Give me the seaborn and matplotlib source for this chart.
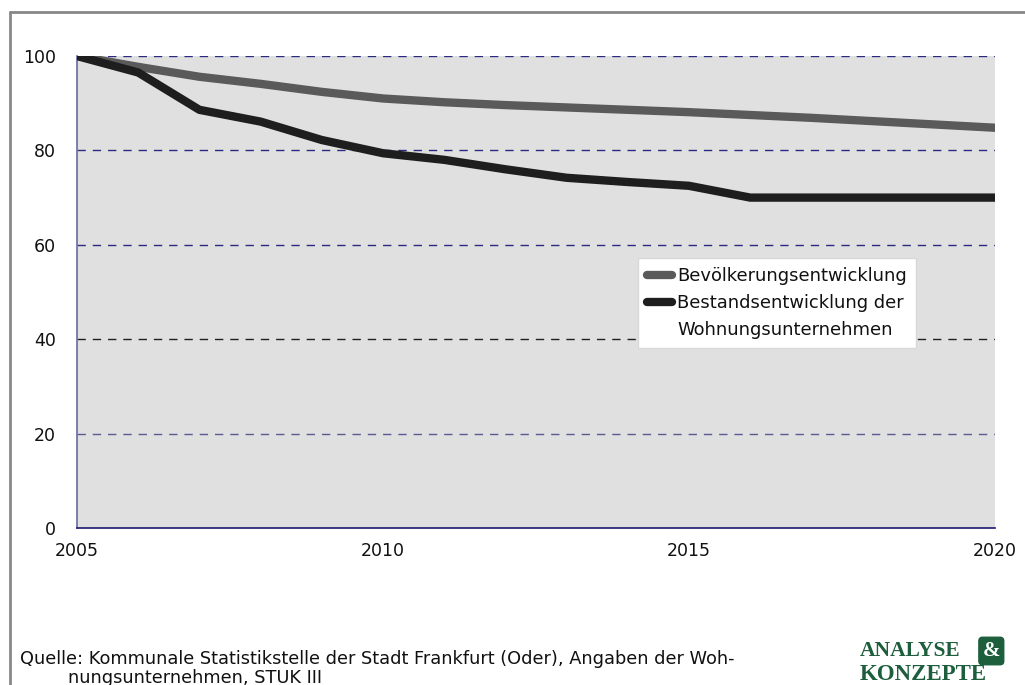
import matplotlib
matplotlib.use("Agg")
import matplotlib.pyplot as plt
from matplotlib.lines import Line2D
import seaborn as sns
import pandas as pd

years = list(range(2005, 2021))
bevoelkerung = [100.0, 97.7, 95.6, 94.1, 92.4, 91.0, 90.2, 89.6, 89.1, 88.6, 88.1, 87.5, 86.9, 86.2, 85.5, 84.8]
bestand = [100.0, 96.5, 88.6, 86.1, 82.2, 79.4, 78.0, 76.0, 74.2, 73.3, 72.5, 70.0, 70.0, 70.0, 70.0, 70.0]
series_names = ["Bevölkerungsentwicklung", "Bestandsentwicklung der\nWohnungsunternehmen"]
series_colors = ["#5a5a5a", "#1e1e1e"]
y_ticks = [0, 20, 40, 60, 80, 100]
x_ticks = [2005, 2010, 2015, 2020]
source_line1 = "Quelle: Kommunale Statistikstelle der Stadt Frankfurt (Oder), Angaben der Woh-"
source_line2 = "nungsunternehmen, STUK III"

df = pd.DataFrame({
    "Jahr": years * 2,
    "Wert": bevoelkerung + bestand,
    "Reihe": [series_names[0]] * len(years) + [series_names[1]] * len(years),
})

sns.set_theme(style="white")
plt.rcParams["font.family"] = ["DejaVu Sans"]

fig = plt.figure(figsize=(10.25, 6.85), dpi=100)
ax = fig.add_axes([77 / 1025, 1 - 528 / 685, 918 / 1025, 472 / 685])
ax.set_facecolor("#e0e0e0")

sns.lineplot(data=df, x="Jahr", y="Wert", hue="Reihe", palette=series_colors,
             hue_order=series_names, linewidth=6, ax=ax, legend=False)
data_lines = list(ax.get_lines())
for ln in data_lines:
    ln.set_solid_capstyle("round")
    ln.set_solid_joinstyle("round")
    ln.set_zorder(3)

ax.set_xlim(2005, 2020)
ax.set_ylim(0, 100)
ax.set_xticks(x_ticks)
ax.set_yticks(y_ticks)
ax.set_xlabel("")
ax.set_ylabel("")
ax.tick_params(axis="both", length=0, labelsize=12.5, colors="#111111")
ax.tick_params(axis="y", pad=15)
ax.tick_params(axis="x", pad=10)

for s in ["top", "right"]:
    ax.spines[s].set_visible(False)
ax.spines["left"].set_color("#6a6aa0")
ax.spines["left"].set_linewidth(1.2)
ax.spines["bottom"].set_color("#1a1a70")
ax.spines["bottom"].set_linewidth(1.2)

grid_colors = {20: "#5a5a95", 40: "#202020", 60: "#2a2a80", 80: "#2a2a80", 100: "#2a2a80"}
for v, c in grid_colors.items():
    ax.axhline(v, color=c, linewidth=1, linestyle=(0, (6, 5)), zorder=1)

label_rows = series_names[1].split("\n")
handles = [Line2D([0], [0], color=series_colors[0], linewidth=6, solid_capstyle="round"),
           Line2D([0], [0], color=series_colors[1], linewidth=6, solid_capstyle="round"),
           Line2D([0], [0], color="none", linewidth=0)]
labels = [series_names[0], label_rows[0], label_rows[1]]
leg = ax.legend(handles, labels, loc="upper left", bbox_to_anchor=(0.611, 0.572),
                borderaxespad=0, frameon=True, fancybox=False, fontsize=12.9,
                handlelength=1.4, handletextpad=0.3, labelspacing=0.5,
                borderpad=0.5, framealpha=1)
leg.get_frame().set_edgecolor("#d8d8d8")
leg.get_frame().set_linewidth(1)
for t in leg.get_texts():
    t.set_color("#111111")

# frame lines of the figure
fig.add_artist(Line2D([10 / 1025, 10 / 1025], [0, 1 - 12 / 685], color="#888888", linewidth=2,
                      transform=fig.transFigure))
fig.add_artist(Line2D([10 / 1025, 1], [1 - 12 / 685, 1 - 12 / 685], color="#888888", linewidth=2,
                      transform=fig.transFigure))

fig.text(20 / 1025, 1 - 659 / 685, source_line1, fontsize=12.8, va="center", ha="left", color="#111111")
fig.text(68 / 1025, 1 - 678 / 685, source_line2, fontsize=12.8, va="center", ha="left", color="#111111")

green = "#1d5e3c"
fig.text(860 / 1025, 1 - 651 / 685, "ANALYSE", fontsize=15.5, fontweight="bold",
         family="Liberation Serif", color=green, va="center", ha="left")
fig.text(1000 / 1025, 1 - 651 / 685, "&", fontsize=15, fontweight="bold",
         family="Liberation Serif", color="white", va="center", ha="right",
         bbox=dict(boxstyle="round,pad=0.18", facecolor=green, edgecolor=green))
fig.text(860 / 1025, 1 - 675 / 685, "KONZEPTE", fontsize=16.5, fontweight="bold",
         family="Liberation Serif", color=green, va="center", ha="left")

fig.savefig("out.png", dpi=100, facecolor="white")
